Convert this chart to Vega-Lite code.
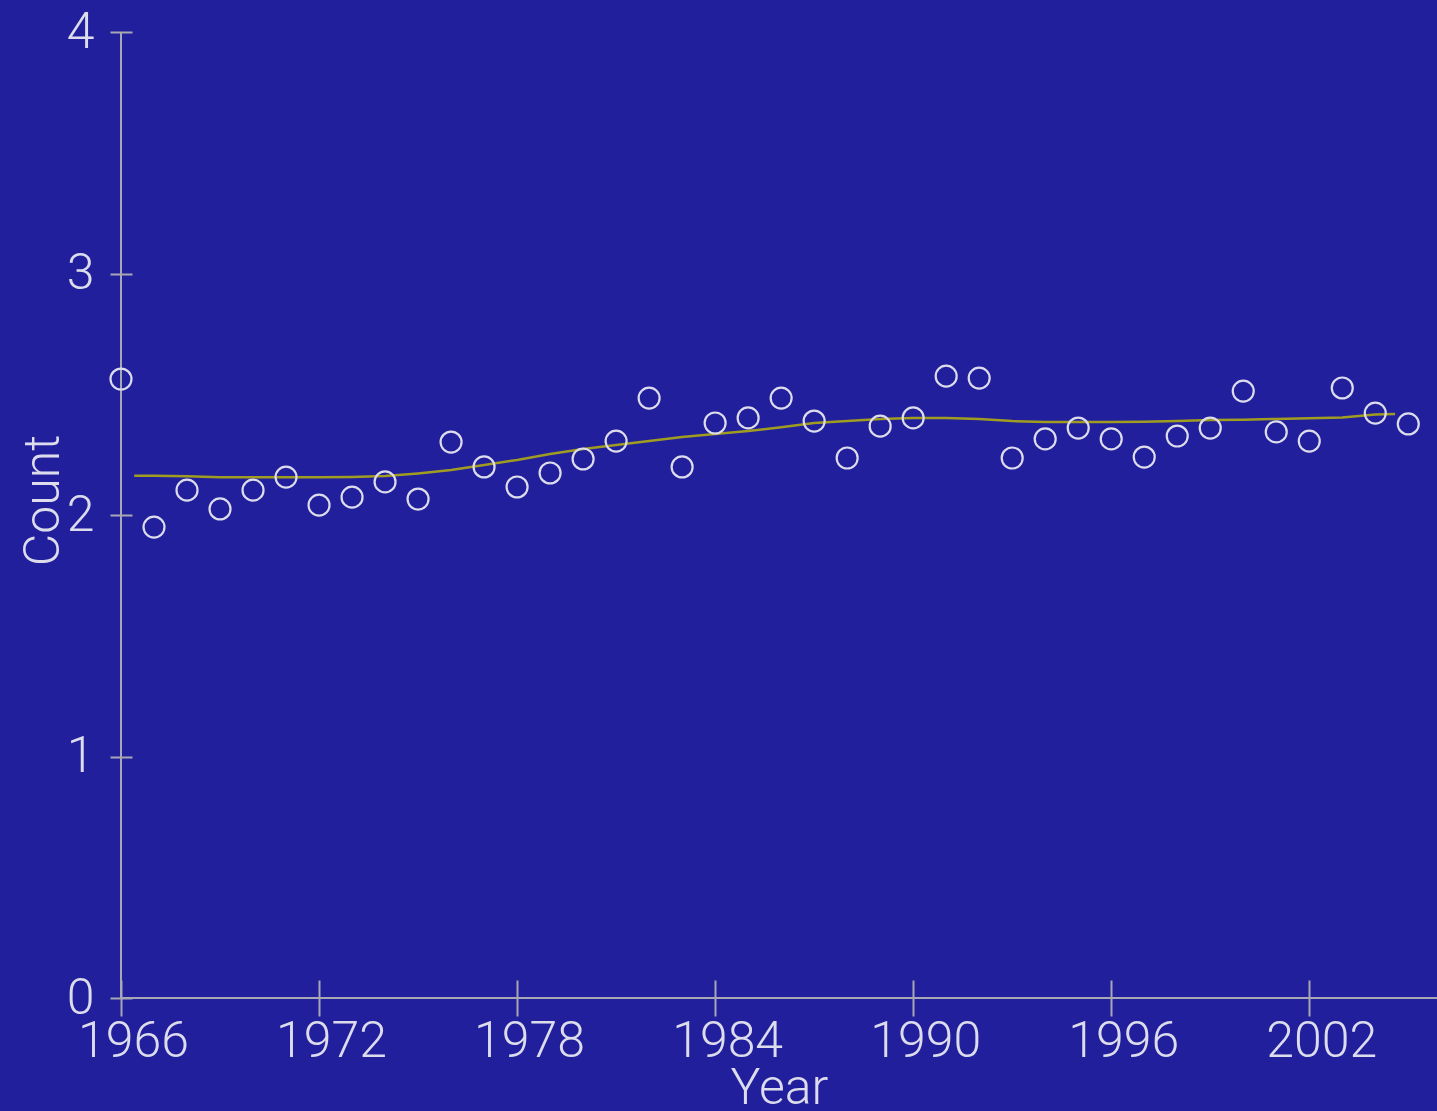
{
  "$schema": "https://vega.github.io/schema/vega-lite/v6.json",
  "width": 1316,
  "height": 966,
  "autosize": {"type": "none"},
  "padding": {"left": 121, "top": 32, "right": 0, "bottom": 113},
  "background": "#211f9c",
  "config": {
    "view": {"stroke": null},
    "font": "Roboto",
    "axis": {
      "labelFont": "Roboto",
      "titleFont": "Roboto",
      "labelFontSize": 50,
      "titleFontSize": 50,
      "labelFontWeight": 300,
      "titleFontWeight": 300,
      "labelColor": "#dcdcec",
      "titleColor": "#dcdcec",
      "tickColor": "#a8a8b4",
      "tickWidth": 2,
      "domain": false,
      "grid": false
    }
  },
  "title": {
    "text": "Upland Sandpiper\u00a0\u00a0\u00a0\u00a0\u00a0\u00a0\u00a0\u00a0\u00a0\u00a0\u00a0\u00a0\u00a0\u00a0\u00a0\u00a0SUR",
    "font": "Roboto",
    "fontSize": 50,
    "fontWeight": 300,
    "color": "#dcdcec",
    "anchor": "middle",
    "dx": 71,
    "offset": 25,
    "baseline": "alphabetic"
  },
  "datasets": {
    "obs": [
      {"year": 1966, "count": 2.563},
      {"year": 1967, "count": 1.950},
      {"year": 1968, "count": 2.103},
      {"year": 1969, "count": 2.025},
      {"year": 1970, "count": 2.103},
      {"year": 1971, "count": 2.157},
      {"year": 1972, "count": 2.041},
      {"year": 1973, "count": 2.074},
      {"year": 1974, "count": 2.137},
      {"year": 1975, "count": 2.066},
      {"year": 1976, "count": 2.302},
      {"year": 1977, "count": 2.199},
      {"year": 1978, "count": 2.116},
      {"year": 1979, "count": 2.174},
      {"year": 1980, "count": 2.232},
      {"year": 1981, "count": 2.306},
      {"year": 1982, "count": 2.484},
      {"year": 1983, "count": 2.199},
      {"year": 1984, "count": 2.381},
      {"year": 1985, "count": 2.402},
      {"year": 1986, "count": 2.484},
      {"year": 1987, "count": 2.389},
      {"year": 1988, "count": 2.236},
      {"year": 1989, "count": 2.368},
      {"year": 1990, "count": 2.402},
      {"year": 1991, "count": 2.575},
      {"year": 1992, "count": 2.567},
      {"year": 1993, "count": 2.236},
      {"year": 1994, "count": 2.315},
      {"year": 1995, "count": 2.360},
      {"year": 1996, "count": 2.315},
      {"year": 1997, "count": 2.240},
      {"year": 1998, "count": 2.327},
      {"year": 1999, "count": 2.360},
      {"year": 2000, "count": 2.513},
      {"year": 2001, "count": 2.344},
      {"year": 2002, "count": 2.306},
      {"year": 2003, "count": 2.526},
      {"year": 2004, "count": 2.422},
      {"year": 2005, "count": 2.377}
    ],
    "trend": [
      {"year": 1966.4, "count": 2.163},
      {"year": 1967, "count": 2.163},
      {"year": 1968, "count": 2.160},
      {"year": 1969, "count": 2.156},
      {"year": 1970, "count": 2.156},
      {"year": 1971, "count": 2.156},
      {"year": 1972, "count": 2.156},
      {"year": 1973, "count": 2.157},
      {"year": 1974, "count": 2.161},
      {"year": 1975, "count": 2.172},
      {"year": 1976, "count": 2.186},
      {"year": 1977, "count": 2.207},
      {"year": 1978, "count": 2.228},
      {"year": 1979, "count": 2.253},
      {"year": 1980, "count": 2.273},
      {"year": 1981, "count": 2.290},
      {"year": 1982, "count": 2.306},
      {"year": 1983, "count": 2.323},
      {"year": 1984, "count": 2.335},
      {"year": 1985, "count": 2.348},
      {"year": 1986, "count": 2.363},
      {"year": 1987, "count": 2.381},
      {"year": 1988, "count": 2.389},
      {"year": 1989, "count": 2.398},
      {"year": 1990, "count": 2.402},
      {"year": 1991, "count": 2.402},
      {"year": 1992, "count": 2.398},
      {"year": 1993, "count": 2.389},
      {"year": 1994, "count": 2.385},
      {"year": 1995, "count": 2.385},
      {"year": 1996, "count": 2.385},
      {"year": 1997, "count": 2.386},
      {"year": 1998, "count": 2.389},
      {"year": 1999, "count": 2.393},
      {"year": 2000, "count": 2.394},
      {"year": 2001, "count": 2.398},
      {"year": 2002, "count": 2.401},
      {"year": 2003, "count": 2.404},
      {"year": 2004, "count": 2.416},
      {"year": 2004.6, "count": 2.418}
    ],
    "origin": [{"year": 1966, "count": 0}]
  },
  "layer": [
    {
      "data": {"name": "origin"},
      "mark": {"type": "rule", "color": "#a8a8b4", "strokeWidth": 2},
      "encoding": {
        "y": {"field": "count", "type": "quantitative", "scale": {"domain": [0, 4], "nice": false}}
      }
    },
    {
      "data": {"name": "origin"},
      "mark": {"type": "rule", "color": "#a8a8b4", "strokeWidth": 2},
      "encoding": {
        "x": {"field": "year", "type": "quantitative", "scale": {"domain": [1966, 2005.87], "nice": false, "zero": false}}
      }
    },
    {
      "data": {"name": "trend"},
      "mark": {"type": "line", "color": "#a09c22", "strokeWidth": 2.5},
      "encoding": {
        "x": {"field": "year", "type": "quantitative"},
        "y": {"field": "count", "type": "quantitative"}
      }
    },
    {
      "data": {"name": "obs"},
      "mark": {"type": "point", "shape": "circle", "filled": false, "color": "#dcdcec", "strokeWidth": 2.2, "size": 440, "opacity": 1},
      "encoding": {
        "x": {
          "field": "year", "type": "quantitative",
          "scale": {"domain": [1966, 2005.87], "nice": false, "zero": false},
          "axis": {
            "orient": "bottom", "offset": -18, "tickSize": 36,
            "values": [1966, 1972, 1978, 1984, 1990, 1996, 2002],
            "format": "d", "labelPadding": 0, "labelOffset": 12,
            "labelFlush": false, "labelOverlap": false,
            "title": "Year", "titleBaseline": "alphabetic", "titleY": 123
          }
        },
        "y": {
          "field": "count", "type": "quantitative",
          "scale": {"domain": [0, 4], "nice": false},
          "axis": {
            "orient": "left", "offset": -11, "tickSize": 22,
            "values": [0, 1, 2, 3, 4], "format": "d",
            "labelPadding": 16, "labelBaseline": "middle",
            "labelFlush": false, "labelOverlap": false,
            "title": "Count", "titleBaseline": "alphabetic", "titleX": -74, "titleY": 468
          }
        }
      }
    }
  ]
}
